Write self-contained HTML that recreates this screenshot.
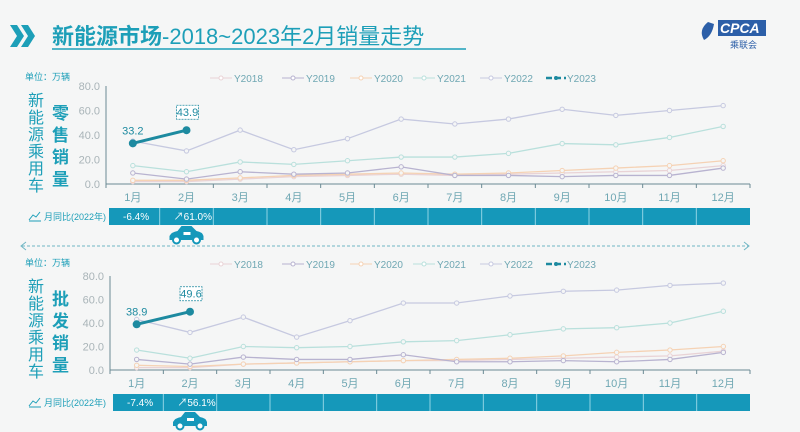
<!DOCTYPE html>
<html><head><meta charset="utf-8"><style>
body{margin:0;background:#f5f6f6;}
svg{display:block;font-family:"Liberation Sans","Noto Sans CJK SC",sans-serif;}
</style></head><body>
<svg id="s" width="800" height="432" viewBox="0 0 800 432" xmlns="http://www.w3.org/2000/svg">
<rect width="800" height="432" fill="#f5f6f6"/>
<polygon points="10,25 17,25 24,36 17,47 10,47 17,36" fill="#1d9fb8"/>
<polygon points="21,25 28,25 35,36 28,47 21,47 28,36" fill="#1d9fb8"/>
<text x="52" y="44" font-size="22" fill="#1d9fb8"><tspan font-weight="bold">新能源市场</tspan>-2018~2023年2月销量走势</text>
<line x1="52" y1="49" x2="466" y2="49" stroke="#1d9fb8" stroke-width="1.5"/>
<path d="M708 22 q-10 8 -4 18 q8 -4 10 -16z" fill="#2c5fa8"/>
<rect x="718" y="20" width="48" height="16" fill="#2c5fa8"/>
<text x="720" y="33" font-size="14" font-style="italic" font-weight="bold" fill="#fff">CPCA</text>
<text x="730" y="48" font-size="9" fill="#2c5fa8">乘联会</text>
<line x1="22" y1="246" x2="748" y2="246" stroke="#6fb6c4" stroke-dasharray="3,2"/>
<path d="M26 242 l-5 4 5 4 M744 242 l5 4 -5 4" stroke="#6fb6c4" fill="none"/>
<g id="c"></g>
</svg>
<script>
const g=document.getElementById('c');let h='';
const cols={Y2018:'#e9d3d6',Y2019:'#b8b3d0',Y2020:'#f5d2b4',Y2021:'#b9e0dc',Y2022:'#c6c9e0'};
function chart(o){
 const x0=o.x0,x1=750,y0=o.y0,y80=o.y80,sp=(x1-x0)/12;
 const Y=v=>y0+(y80-y0)*v/80, X=i=>x0+sp*(i+0.5);
 h+=`<text x="25" y="${o.ly+2}" font-size="9" fill="#1d9fb8">单位：万辆</text>`;
 '新能源乘用车'.split('').forEach((c,i)=>h+=`<text x="28" y="${o.vy+i*17}" font-size="16" fill="#1d9fb8">${c}</text>`);
 o.t.split('').forEach((c,i)=>h+=`<text x="52" y="${o.vy+13+i*22}" font-size="17" font-weight="bold" fill="#1d9fb8">${c}</text>`);
 for(let v=0;v<=80;v+=20)h+=`<text x="${x0-6}" y="${Y(v)+4}" font-size="11" text-anchor="end" fill="#a9b4b8">${v}.0</text>`;
 h+=`<line x1="${x0}" y1="${Y(80)}" x2="${x0}" y2="${y0}" stroke="#6a8a94"/><line x1="${x0}" y1="${y0}" x2="${x1}" y2="${y0}" stroke="#6a8a94"/>`;
 for(let i=0;i<=12;i++)h+=`<line x1="${x0+sp*i}" y1="${y0}" x2="${x0+sp*i}" y2="${y0+4}" stroke="#6a8a94"/>`;
 for(let i=0;i<12;i++)h+=`<text x="${X(i)}" y="${y0+17}" font-size="11" text-anchor="middle" fill="#6fa7b3">${i+1}月</text>`;
 const lg=[['Y2018',210],['Y2019',282],['Y2020',350],['Y2021',413],['Y2022',480]];
 lg.forEach(([n,x])=>h+=`<line x1="${x}" y1="${o.ly}" x2="${x+22}" y2="${o.ly}" stroke="${cols[n]}"/><circle cx="${x+11}" cy="${o.ly}" r="2" fill="#fff" stroke="${cols[n]}"/><text x="${x+24}" y="${o.ly+4}" font-size="10" fill="#6fa7b3">${n}</text>`);
 h+=`<line x1="546" y1="${o.ly}" x2="566" y2="${o.ly}" stroke="#1d8aa0" stroke-width="2.5" stroke-dasharray="6,3"/><circle cx="556" cy="${o.ly}" r="2" fill="#1d8aa0"/><text x="567" y="${o.ly+4}" font-size="10" fill="#6fa7b3">Y2023</text>`;
 for(const n in o.d){const p=o.d[n].map((v,i)=>X(i)+','+Y(v)).join(' ');
  h+=`<polyline points="${p}" fill="none" stroke="${cols[n]}" stroke-width="1.3"/>`;
  o.d[n].forEach((v,i)=>h+=`<circle cx="${X(i)}" cy="${Y(v)}" r="2.2" fill="#f5f6f6" stroke="${cols[n]}"/>`);}
 const a=o.v23;
 h+=`<line x1="${X(0)}" y1="${Y(a[0])}" x2="${X(1)}" y2="${Y(a[1])}" stroke="#1d8aa0" stroke-width="3"/><circle cx="${X(0)}" cy="${Y(a[0])}" r="4" fill="#1d8aa0"/><circle cx="${X(1)}" cy="${Y(a[1])}" r="4" fill="#1d8aa0"/>`;
 h+=`<text x="${X(0)}" y="${Y(a[0])-9}" font-size="11" text-anchor="middle" fill="#1d8aa0">${a[0]}</text>`;
 h+=`<rect x="${X(1)-10}" y="${Y(a[1])-25}" width="22" height="14" fill="#fff" stroke="#1d8aa0" stroke-width="0.8" stroke-dasharray="2,1"/><text x="${X(1)+1}" y="${Y(a[1])-14}" font-size="11" text-anchor="middle" fill="#1d8aa0">${a[1]}</text>`;
 const by=o.by;
 h+=`<path d="M29 ${by+12} l4 -5 3 2 4 -5 M29 ${by+13} h12" stroke="#1d9fb8" fill="none"/><text x="44" y="${by+12}" font-size="9" fill="#1d9fb8">月同比(2022年)</text>`;
 h+=`<rect x="${x0+3}" y="${by}" width="${x1-x0-3}" height="17" fill="#1598ba"/>`;
 for(let i=1;i<12;i++)h+=`<line x1="${x0+sp*i}" y1="${by}" x2="${x0+sp*i}" y2="${by+17}" stroke="#8fd3e4"/>`;
 h+=`<text x="${x0+17}" y="${by+12}" font-size="10" fill="#fff">${o.p[0]}</text><text x="${x0+sp+14}" y="${by+12}" font-size="10" fill="#fff">${o.p[1]}</text>`;
 const cx=X(1),cy=by+27;
 h+=`<path d="M${cx-17} ${cy+5} v-4 q2 -4 8 -5 l4 -5 h10 l5 5 q6 1 7 5 v4z" fill="#1598ba"/><circle cx="${cx-10}" cy="${cy+5}" r="3.5" fill="#fff" stroke="#1598ba" stroke-width="2"/><circle cx="${cx+10}" cy="${cy+5}" r="3.5" fill="#fff" stroke="#1598ba" stroke-width="2"/><rect x="${cx-3}" y="${cy-3}" width="7" height="3" fill="#fff"/>`;
}
chart({x0:106,y0:184,y80:86,ly:78,vy:106,t:'零售销量',by:208,p:['-6.4%','↗61.0%'],v23:[33.2,43.9],
 d:{Y2018:[2,2,4,6,7,8,7,8,9,10,11,15],Y2020:[3,3,5,7,8,9,8,9,11,13,15,19],Y2019:[9,4,10,8,9,14,7,7,6,7,7,13],
 Y2021:[15,10,18,16,19,22,22,25,33,32,38,47],Y2022:[35,27,44,28,37,53,49,53,61,56,60,64]}});
chart({x0:110,y0:370,y80:276,ly:264,vy:292,t:'批发销量',by:394,p:['-7.4%','↗56.1%'],v23:[38.9,49.6],
 d:{Y2018:[2,2,5,6,7,8,8,9,10,11,12,16],Y2020:[4,3,5,6,7,8,9,10,12,15,17,20],Y2019:[9,5,11,9,9,13,7,7,8,7,9,15],
 Y2021:[17,10,20,19,20,24,25,30,35,36,40,50],Y2022:[43,32,45,28,42,57,57,63,67,68,72,74]}});
g.innerHTML=h;
</script>
</body></html>
